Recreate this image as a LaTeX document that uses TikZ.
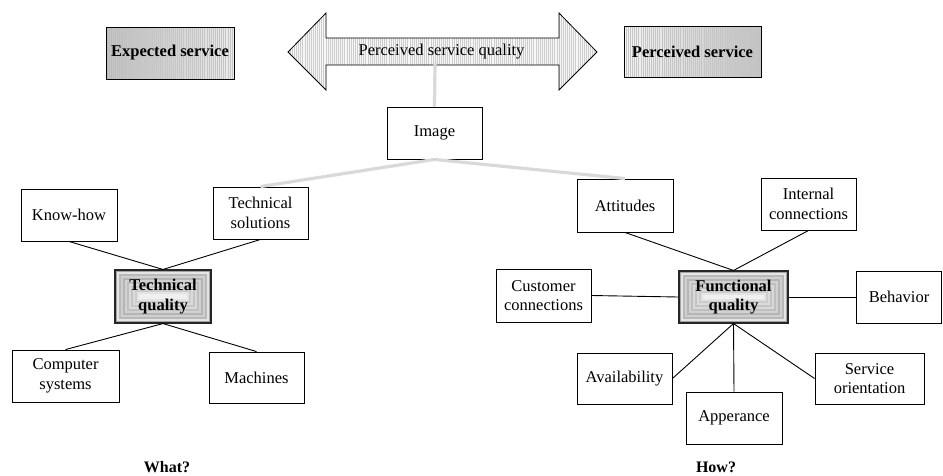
\documentclass[tikz,border=0pt]{standalone}
\usepackage{fontspec}
\setmainfont{Liberation Serif}
\begin{document}
\begin{tikzpicture}[x=1pt,y=-1pt,
  txt/.style={font=\fontsize{16.5}{19.5}\selectfont},
  box/.style={txt,draw,line width=0.9pt,fill=white,align=center,inner sep=0pt},
  link/.style={line width=0.9pt},
  greylink/.style={line width=3.2pt,gray!30},
  vstripes/.style={path picture={
    \foreach \k in {0,2.1,...,330}{
      \draw[#1,line width=0.45pt]
        ([xshift=\k pt]path picture bounding box.south west) --
        ([xshift=\k pt]path picture bounding box.north west);}}},
  bevel/.style={box,font=\fontsize{16.5}{19.5}\selectfont\bfseries,
    draw=gray!30!black,line width=1.1pt,
    path picture={
      \foreach \g [count=\i from 0] in {72,20,55,38,58,35,50,30,46,28,40,22,12}{
        \fill[gray!\g]
          ([shift={(\i*2pt,-\i*2pt)}]path picture bounding box.north west) rectangle
          ([shift={(-\i*2pt,\i*2pt)}]path picture bounding box.south east);}}},
  label/.style={font=\fontsize{16}{18}\selectfont\bfseries}
]
\useasboundingbox (0,0) rectangle (943,475);

% top row: service boxes and the double arrow between them
\node[box,font=\fontsize{16.5}{19.5}\selectfont\bfseries,minimum width=128pt,minimum height=52pt,
  left color=gray!55,right color=gray!15,vstripes=gray!45] (exp) at (170,53) {Expected service};
\node[box,font=\fontsize{16.5}{19.5}\selectfont\bfseries,minimum width=137pt,minimum height=51pt,
  left color=gray!8,right color=gray!50,vstripes=gray!45] (perc) at (692.5,51.5) {Perceived service};

\shade[left color=white,middle color=gray!42,right color=white] (290,13) rectangle (595,90);
\coordinate (psqbase) at (435,63);

% image box below the arrow
\node[box,minimum width=95pt,minimum height=52pt] (img) at (434.5,133) {Image};

\draw[line width=0.8pt,fill=gray!6,vstripes=gray!40]
  (288,52) -- (326,13) -- (326,38) -- (559,38) -- (559,13) -- (597,52)
  -- (559,90) -- (559,65) -- (326,65) -- (326,90) -- cycle;
\node[txt] (psq) at (441.5,52) {Perceived service quality};
\draw[greylink] (psqbase) -- (img.north);

% technical quality cluster
\node[box,minimum width=96pt,minimum height=52pt] (know) at (69,215) {Know-how};
\node[box,minimum width=95pt,minimum height=52pt] (tsol) at (260.5,213) {Technical\\solutions};
\node[bevel,minimum width=96pt,minimum height=53pt] (tq) at (163,296.5) {Technical\\quality};
\node[box,minimum width=107pt,minimum height=52pt] (comp) at (65.5,376) {Computer\\systems};
\node[box,minimum width=95pt,minimum height=51pt] (mach) at (256.5,377.5) {Machines};

% functional quality cluster
\node[box,minimum width=96pt,minimum height=53pt] (att) at (625,205.5) {Attitudes};
\node[box,minimum width=95pt,minimum height=52pt] (intc) at (808.5,204) {Internal\\connections};
\node[bevel,minimum width=109pt,minimum height=52pt] (fq) at (733.5,297) {Functional\\quality};
\node[box,minimum width=95pt,minimum height=53pt] (cust) at (543.5,295.5) {Customer\\connections};
\node[box,minimum width=85pt,minimum height=52pt] (beh) at (899,297) {Behavior};
\node[box,minimum width=95pt,minimum height=51pt] (avail) at (624.5,378.5) {Availability};
\node[box,minimum width=96pt,minimum height=52pt] (appe) at (734,418) {Apperance};
\node[box,minimum width=109pt,minimum height=51pt] (sori) at (869.5,378.5) {Service\\orientation};

\draw[greylink] (img.south) -- (tsol.north);
\draw[greylink] (img.south) -- (att.north);

% black links
\draw[link] (know.south) -- (tq.north) -- (tsol.south);
\draw[link] (comp.north) -- (tq.south) -- (mach.north);
\draw[link] (att.south) -- (fq.north) -- (intc.south);
\draw[link] (cust.east) -- (fq.west);
\draw[link] (fq.east) -- (beh.west);
\draw[link] (avail.east) -- (fq.south) -- (sori.west);
\draw[link] (fq.south) -- (appe.north);

% questions
\node[label] (what) at (167,467) {What?};
\node[label] (how) at (716,467) {How?};
\end{tikzpicture}
\end{document}
